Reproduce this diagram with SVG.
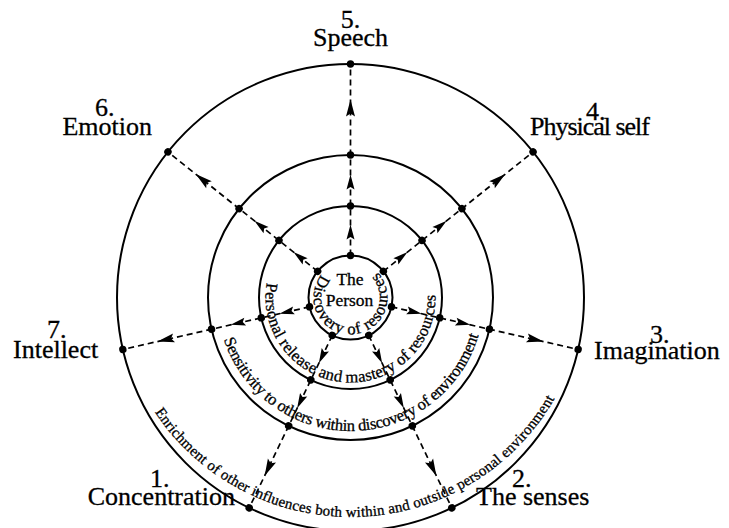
<svg xmlns="http://www.w3.org/2000/svg" width="729" height="528" viewBox="0 0 729 528">
<style>
  .ring { fill: none; stroke: #000; stroke-width: 2; }
  .dash { stroke: #000; stroke-width: 1.7; stroke-dasharray: 6 4; fill: none; }
  .dot { fill: #000; }
  .head { fill: #000; }
  text { fill: #000; stroke: #000; stroke-width: 0.3; font-family: "Liberation Serif", "Times New Roman", serif; }
  .lbl { font-size: 26px; }
  .arc { font-size: 16.5px; }
  .arc2 { font-size: 15px; }
  .ctr { font-size: 17.5px; text-anchor: middle; }
</style>
<defs>
  <path id="p1" d="M 321.34 274.72 A 37 37 0 1 0 374.28 269.16"/>
  <path id="p2" d="M 266.79 282.74 A 85 85 0 1 0 435.29 291.57"/>
  <path id="p3" d="M 223.82 339.63 A 133.5 133.5 0 0 0 479.45 332.05"/>
  <path id="p4" d="M 154.77 412.05 A 235 235 0 0 0 555.84 396.28"/>
  <g id="ray">
    <line class="dash" x1="0" y1="-42" x2="0" y2="-233.5"/>
    <polygon class="head" points="0,-73 4,-58 0,-60.5 -4,-58"/>
    <polygon class="head" points="0,-123 4,-108 0,-110.5 -4,-108"/>
    <polygon class="head" points="0,-198 4.5,-181 0,-184 -4.5,-181"/>
    <circle class="dot" cx="0" cy="-42" r="3.7"/>
    <circle class="dot" cx="0" cy="-91.5" r="3.7"/>
    <circle class="dot" cx="0" cy="-142.5" r="3.7"/>
    <circle class="dot" cx="0" cy="-233.5" r="3.7"/>
  </g>
</defs>

<g id="ring-outer">
  <circle class="ring" cx="350.5" cy="297.5" r="233.5"/>
  <text class="arc2"><textPath href="#p4" textLength="478" lengthAdjust="spacing">Enrichment of other influences both within and outside personal environment</textPath></text>
</g>
<g id="ring-third">
  <circle class="ring" cx="350.5" cy="297.5" r="142.5"/>
  <text class="arc"><textPath href="#p3" textLength="338" lengthAdjust="spacing">Sensitivity to others within discovery of environment</textPath></text>
</g>
<g id="ring-second">
  <circle class="ring" cx="350.5" cy="297.5" r="91.5"/>
  <text class="arc"><textPath href="#p2" textLength="284" lengthAdjust="spacing">Personal release and mastery of resources</textPath></text>
</g>
<g id="the-person">
  <circle class="ring" cx="350.5" cy="297.5" r="42"/>
  <text class="arc"><textPath href="#p1" textLength="168" lengthAdjust="spacing">Discovery of resources</textPath></text>
  <text class="ctr" x="350" y="285">The</text>
  <text class="ctr" x="349.5" y="306">Person</text>
</g>

<g id="connectors">
  <use href="#ray" transform="translate(350.5 297.5) rotate(0)"/>
  <use href="#ray" transform="translate(350.5 297.5) rotate(51.4286)"/>
  <use href="#ray" transform="translate(350.5 297.5) rotate(102.857)"/>
  <use href="#ray" transform="translate(350.5 297.5) rotate(154.286)"/>
  <use href="#ray" transform="translate(350.5 297.5) rotate(205.714)"/>
  <use href="#ray" transform="translate(350.5 297.5) rotate(257.143)"/>
  <use href="#ray" transform="translate(350.5 297.5) rotate(308.571)"/>
</g>

<g id="label-1">
  <text class="lbl" x="150" y="487">1.</text>
  <text class="lbl" x="235" y="505" text-anchor="end">Concentration</text>
</g>
<g id="label-2">
  <text class="lbl" x="512" y="487">2.</text>
  <text class="lbl" x="476" y="505">The senses</text>
</g>
<g id="label-3">
  <text class="lbl" x="650" y="343">3.</text>
  <text class="lbl" x="594" y="359">Imagination</text>
</g>
<g id="label-4">
  <text class="lbl" x="586" y="120">4.</text>
  <text class="lbl" x="530" y="135" textLength="120" lengthAdjust="spacing">Physical self</text>
</g>
<g id="label-5">
  <text class="lbl" x="350.5" y="28" text-anchor="middle">5.</text>
  <text class="lbl" x="350.5" y="46" text-anchor="middle">Speech</text>
</g>
<g id="label-6">
  <text class="lbl" x="95" y="116">6.</text>
  <text class="lbl" x="152" y="135" text-anchor="end">Emotion</text>
</g>
<g id="label-7">
  <text class="lbl" x="47" y="338">7.</text>
  <text class="lbl" x="13" y="358">Intellect</text>
</g>
</svg>
